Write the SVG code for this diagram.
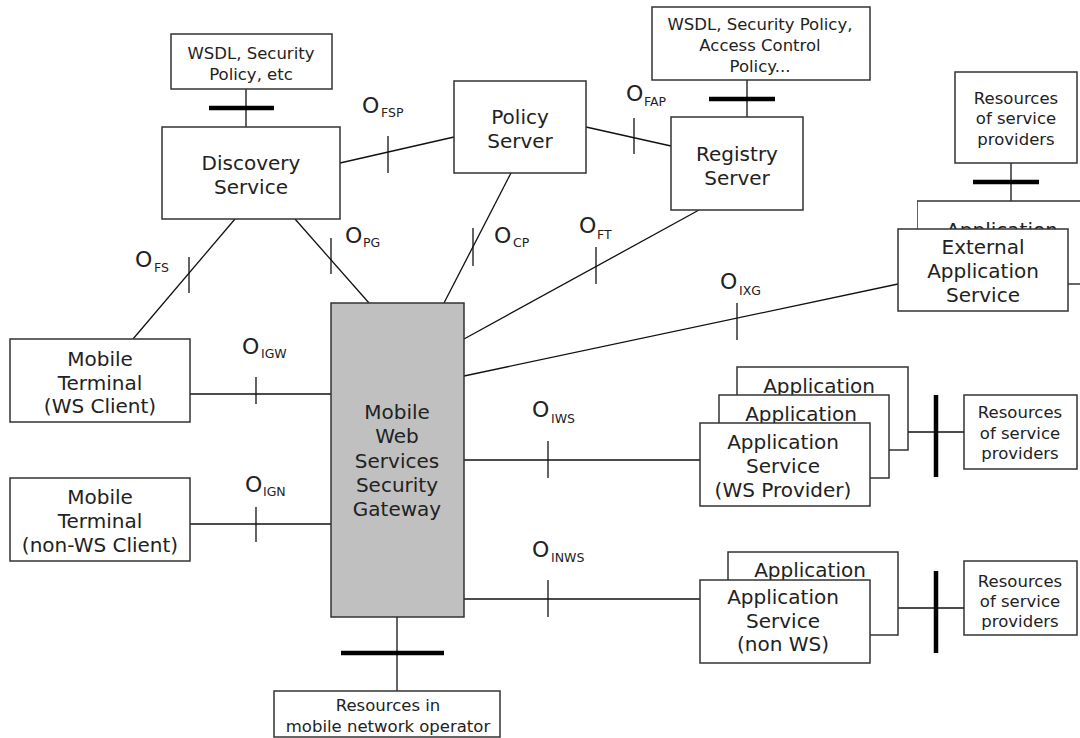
<svg xmlns="http://www.w3.org/2000/svg" width="1080" height="738" viewBox="0 0 1080 738">
  <style>
    .box { fill: #ffffff; stroke: #333333; stroke-width: 1.5; }
    .gw { fill: #c0c0c0; stroke: #333333; stroke-width: 1.5; }
    .ln { stroke: #111111; stroke-width: 1.3; fill: none; }
    .tick { stroke: #111111; stroke-width: 1.3; }
    .bar { stroke: #000000; stroke-width: 4.5; }
    .t { font-family: "DejaVu Sans", "Liberation Sans", sans-serif; font-size: 20px; fill: #222222; text-anchor: middle; }
    .s { font-family: "DejaVu Sans", "Liberation Sans", sans-serif; font-size: 16.5px; fill: #222222; text-anchor: middle; }
    .o { font-family: "DejaVu Sans", "Liberation Sans", sans-serif; font-size: 22px; fill: #222222; }
    .sub { font-size: 12.5px; }
  </style>
  <defs>
    <!-- only the part of the rear box above the front box is drawn -->
    <clipPath id="rear-top">
      <rect x="917" y="200" width="170" height="29"/>
    </clipPath>
  </defs>

  <!-- connectors, ticks and interface bars -->
  <g id="connectors">
    <line class="ln" x1="340" y1="163" x2="454" y2="137"/>
    <line class="ln" x1="586" y1="127" x2="671" y2="146"/>
    <line class="ln" x1="511" y1="173" x2="444" y2="303"/>
    <line class="ln" x1="699" y1="210" x2="464" y2="339"/>
    <line class="ln" x1="295" y1="219" x2="369" y2="303"/>
    <line class="ln" x1="235" y1="219" x2="133" y2="339"/>
    <line class="ln" x1="464" y1="376" x2="898" y2="284"/>
    <line class="ln" x1="190" y1="394" x2="331" y2="394"/>
    <line class="ln" x1="190" y1="524" x2="331" y2="524"/>
    <line class="ln" x1="464" y1="460" x2="700" y2="460"/>
    <line class="ln" x1="464" y1="599" x2="700" y2="599"/>
    <line class="ln" x1="908" y1="432" x2="964" y2="432"/>
    <line class="ln" x1="898" y1="608" x2="964" y2="608"/>
    <line class="ln" x1="397" y1="617" x2="397" y2="691"/>
    <line class="ln" x1="246" y1="89" x2="246" y2="127"/>
    <line class="ln" x1="747" y1="80" x2="747" y2="117"/>
    <line class="ln" x1="1011" y1="163" x2="1011" y2="201"/>
    <line class="ln" x1="1068" y1="284" x2="1080" y2="284"/>

    <!-- ticks -->
    <line class="tick" x1="388" y1="136" x2="388" y2="173"/>
    <line class="tick" x1="634" y1="118" x2="634" y2="154"/>
    <line class="tick" x1="189" y1="257" x2="189" y2="293"/>
    <line class="tick" x1="331" y1="238" x2="331" y2="274"/>
    <line class="tick" x1="473" y1="228" x2="473" y2="266"/>
    <line class="tick" x1="596" y1="247" x2="596" y2="284"/>
    <line class="tick" x1="737" y1="303" x2="737" y2="340"/>
    <line class="tick" x1="256" y1="377" x2="256" y2="404"/>
    <line class="tick" x1="256" y1="507" x2="256" y2="542"/>
    <line class="tick" x1="548" y1="441" x2="548" y2="478"/>
    <line class="tick" x1="548" y1="580" x2="548" y2="617"/>

    <!-- bars -->
    <line class="bar" x1="209" y1="108" x2="274" y2="108"/>
    <line class="bar" x1="709" y1="99" x2="775" y2="99"/>
    <line class="bar" x1="973" y1="182" x2="1039" y2="182"/>
    <line class="bar" x1="341" y1="653" x2="444" y2="653"/>
    <line class="bar" x1="936" y1="395" x2="936" y2="477"/>
    <line class="bar" x1="936" y1="571" x2="936" y2="653"/>
  </g>

  <!-- interface labels -->
  <g id="labels">
    <text class="o"><tspan x="362" y="113">O</tspan><tspan class="sub" x="381" y="117">FSP</tspan></text>
    <text class="o"><tspan x="626" y="101">O</tspan><tspan class="sub" x="644" y="106">FAP</tspan></text>
    <text class="o"><tspan x="135" y="267">O</tspan><tspan class="sub" x="154" y="272">FS</tspan></text>
    <text class="o"><tspan x="345" y="243">O</tspan><tspan class="sub" x="363" y="247">PG</tspan></text>
    <text class="o"><tspan x="494" y="243">O</tspan><tspan class="sub" x="513" y="247">CP</tspan></text>
    <text class="o"><tspan x="579" y="233">O</tspan><tspan class="sub" x="597" y="239">FT</tspan></text>
    <text class="o"><tspan x="720" y="289">O</tspan><tspan class="sub" x="739" y="295">IXG</tspan></text>
    <text class="o"><tspan x="242" y="354">O</tspan><tspan class="sub" x="261" y="358">IGW</tspan></text>
    <text class="o"><tspan x="245" y="492">O</tspan><tspan class="sub" x="263" y="496">IGN</tspan></text>
    <text class="o"><tspan x="532" y="417">O</tspan><tspan class="sub" x="551" y="423">IWS</tspan></text>
    <text class="o"><tspan x="532" y="557">O</tspan><tspan class="sub" x="551" y="562">INWS</tspan></text>
  </g>

  <g id="wsdl-discovery">
    <rect class="box" x="171" y="34" width="161" height="55"/>
    <text class="s" x="251" y="59">WSDL, Security</text>
    <text class="s" x="251" y="80">Policy, etc</text>
  </g>

  <g id="discovery-service">
    <rect class="box" x="162" y="127" width="178" height="92"/>
    <text class="t" x="251" y="170">Discovery</text>
    <text class="t" x="251" y="194">Service</text>
  </g>

  <g id="policy-server">
    <rect class="box" x="454" y="81" width="132" height="92"/>
    <text class="t" x="520" y="124">Policy</text>
    <text class="t" x="520" y="148">Server</text>
  </g>

  <g id="wsdl-registry">
    <rect class="box" x="652" y="7" width="218" height="73"/>
    <text class="s" x="760" y="30">WSDL, Security Policy,</text>
    <text class="s" x="760" y="51">Access Control</text>
    <text class="s" x="760" y="72">Policy...</text>
  </g>

  <g id="registry-server">
    <rect class="box" x="671" y="117" width="132" height="93"/>
    <text class="t" x="737" y="161">Registry</text>
    <text class="t" x="737" y="185">Server</text>
  </g>

  <g id="resources-external">
    <rect class="box" x="955" y="72" width="122" height="91"/>
    <text class="s" x="1016" y="104">Resources</text>
    <text class="s" x="1016" y="124">of service</text>
    <text class="s" x="1016" y="145">providers</text>
  </g>

  <g id="external-application-service">
    <g clip-path="url(#rear-top)">
      <rect class="box" x="917" y="201" width="175" height="100"/>
      <text class="t" x="1002" y="237">Application</text>
    </g>
    <rect class="box" x="898" y="229" width="170" height="82"/>
    <text class="t" x="983" y="254">External</text>
    <text class="t" x="983" y="278">Application</text>
    <text class="t" x="983" y="302">Service</text>
  </g>

  <g id="mobile-terminal-ws">
    <rect class="box" x="10" y="339" width="180" height="83"/>
    <text class="t" x="100" y="366">Mobile</text>
    <text class="t" x="100" y="390">Terminal</text>
    <text class="t" x="100" y="413">(WS Client)</text>
  </g>

  <g id="mobile-terminal-non-ws">
    <rect class="box" x="10" y="478" width="180" height="83"/>
    <text class="t" x="100" y="504">Mobile</text>
    <text class="t" x="100" y="528">Terminal</text>
    <text class="t" x="100" y="552">(non-WS Client)</text>
  </g>

  <g id="security-gateway">
    <rect class="gw" x="331" y="303" width="133" height="314"/>
    <text class="t" x="397" y="419">Mobile</text>
    <text class="t" x="397" y="443">Web</text>
    <text class="t" x="397" y="468">Services</text>
    <text class="t" x="397" y="492">Security</text>
    <text class="t" x="397" y="516">Gateway</text>
  </g>

  <g id="resources-operator">
    <rect class="box" x="274" y="691" width="226" height="46"/>
    <text class="s" x="388" y="711">Resources in</text>
    <text class="s" x="388" y="732">mobile network operator</text>
  </g>

  <g id="application-service-ws">
    <rect class="box" x="737" y="367" width="171" height="83"/>
    <text class="t" x="819" y="393">Application</text>
    <rect class="box" x="719" y="395" width="170" height="83"/>
    <text class="t" x="801" y="421">Application</text>
    <rect class="box" x="700" y="423" width="170" height="83"/>
    <text class="t" x="783" y="449">Application</text>
    <text class="t" x="783" y="473">Service</text>
    <text class="t" x="783" y="497">(WS Provider)</text>
  </g>

  <g id="resources-ws">
    <rect class="box" x="964" y="395" width="113" height="74"/>
    <text class="s" x="1020" y="418">Resources</text>
    <text class="s" x="1020" y="439">of service</text>
    <text class="s" x="1020" y="459">providers</text>
  </g>

  <g id="application-service-non-ws">
    <rect class="box" x="728" y="552" width="170" height="83"/>
    <text class="t" x="810" y="577">Application</text>
    <rect class="box" x="700" y="580" width="170" height="83"/>
    <text class="t" x="783" y="604">Application</text>
    <text class="t" x="783" y="628">Service</text>
    <text class="t" x="783" y="651">(non WS)</text>
  </g>

  <g id="resources-non-ws">
    <rect class="box" x="964" y="561" width="113" height="74"/>
    <text class="s" x="1020" y="587">Resources</text>
    <text class="s" x="1020" y="607">of service</text>
    <text class="s" x="1020" y="627">providers</text>
  </g>
</svg>
